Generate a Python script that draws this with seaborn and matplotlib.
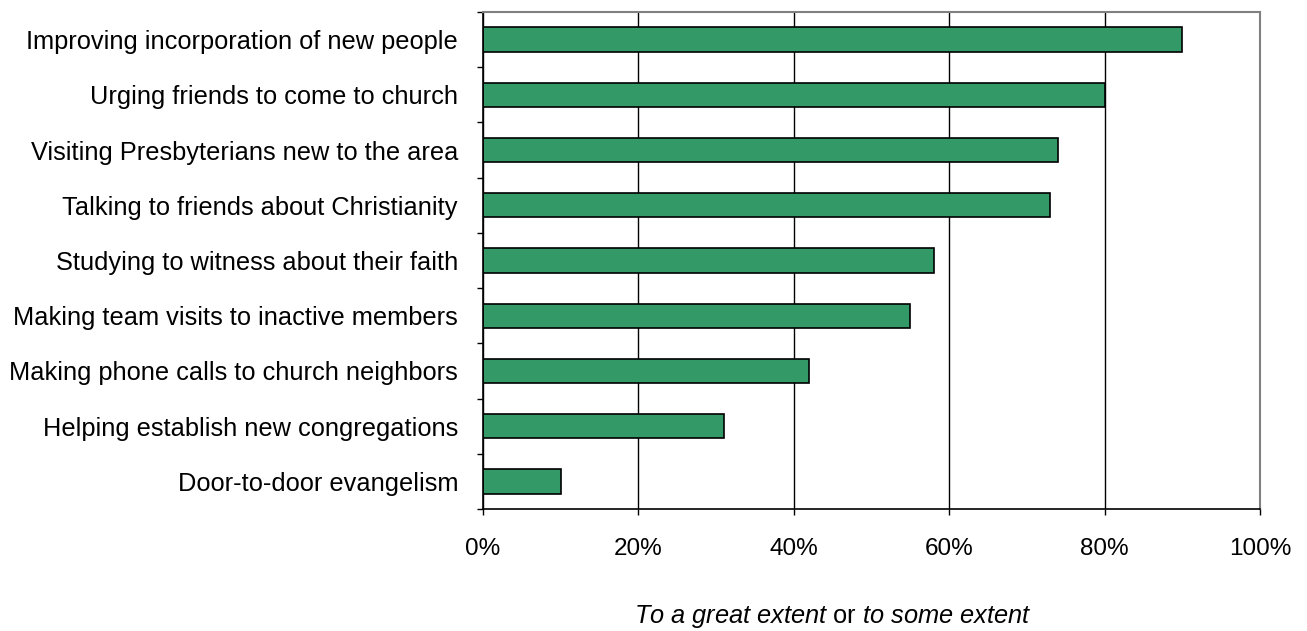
import matplotlib
matplotlib.use("Agg")
import matplotlib.pyplot as plt
import seaborn as sns
import pandas as pd
from matplotlib.ticker import FixedLocator, PercentFormatter

categories = [
    "Improving incorporation of new people",
    "Urging friends to come to church",
    "Visiting Presbyterians new to the area",
    "Talking to friends about Christianity",
    "Studying to witness about their faith",
    "Making team visits to inactive members",
    "Making phone calls to church neighbors",
    "Helping establish new congregations",
    "Door-to-door evangelism",
]
values = [90, 80, 74, 73, 58, 55, 42, 31, 10]
x_ticks = [0, 20, 40, 60, 80, 100]

sns.set_theme(style="white")
plt.rcParams["font.family"] = ["Liberation Sans", "DejaVu Sans"]
plt.rcParams["mathtext.fontset"] = "custom"
plt.rcParams["mathtext.it"] = "Liberation Sans:italic"
plt.rcParams["mathtext.rm"] = "Liberation Sans"

df = pd.DataFrame({"category": categories, "value": values})

fig = plt.figure(figsize=(13.07, 6.31), dpi=100)
ax = fig.add_axes([483/1307, 1 - 509/631, (1260-483)/1307, (509-12)/631])

sns.barplot(data=df, y="category", x="value", orient="h", ax=ax,
            color="#339966", saturation=1, width=0.44,
            edgecolor="black", linewidth=1.2)

ax.set_xlim(0, 100)
ax.set_ylim(len(categories) - 0.5, -0.5)
ax.xaxis.set_major_locator(FixedLocator(x_ticks))
ax.xaxis.set_major_formatter(PercentFormatter(decimals=0))
ax.grid(axis="x", color="black", linewidth=1)
ax.set_axisbelow(True)

# category ticks at boundaries
ax.set_yticks(range(len(categories)))
ax.set_yticklabels(categories)
ax.set_yticks([i - 0.5 for i in range(len(categories) + 1)], minor=True)
ax.tick_params(axis="y", which="major", length=0, pad=18, labelsize=18.3, colors="black")
ax.tick_params(axis="y", which="minor", length=4, width=1, color="black", left=True, direction="out")
ax.tick_params(axis="x", which="major", length=4, width=1, color="black", bottom=True,
               direction="out", pad=17, labelsize=17.5, labelcolor="black")

for s in ["left", "bottom"]:
    ax.spines[s].set_color("black")
    ax.spines[s].set_linewidth(1.2)
for s in ["top", "right"]:
    ax.spines[s].set_color("#808080")
    ax.spines[s].set_linewidth(1.5)
    ax.spines[s].set_visible(True)

ax.set_xlabel("")
ax.set_ylabel("")

fig.text(833/1307, 1 - 617/631,
         r"$\mathit{To\ a\ great\ extent}$ or $\mathit{to\ some\ extent}$",
         ha="center", va="center", fontsize=18.3, color="black")

fig.savefig("out.png", dpi=100, facecolor="white")
